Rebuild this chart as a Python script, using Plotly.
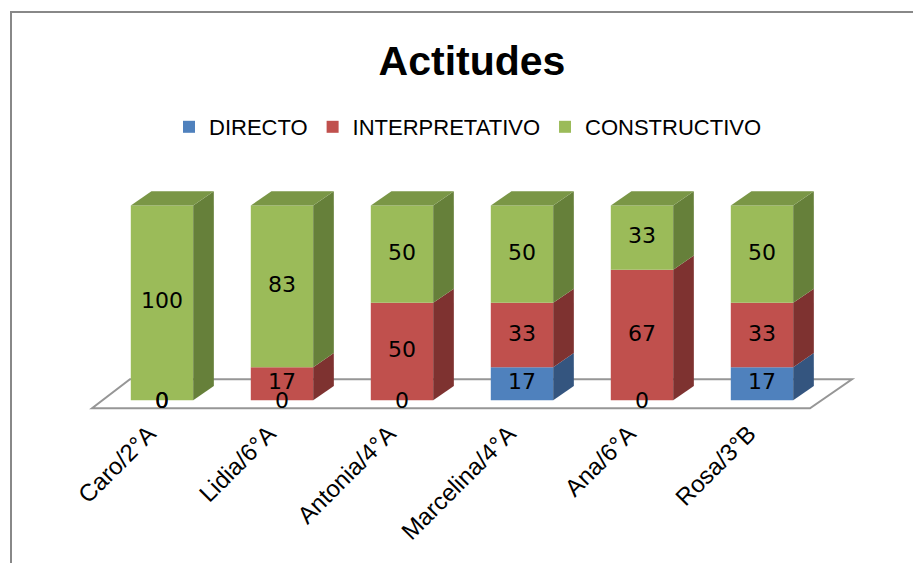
import plotly.graph_objects as go

# ---------------- data ----------------
categories = ['Caro/2°A', 'Lidia/6°A', 'Antonia/4°A', 'Marcelina/4°A', 'Ana/6°A', 'Rosa/3°B']
directo = [0, 0, 0, 17, 0, 17]
interpretativo = [0, 17, 50, 33, 67, 33]
constructivo = [100, 83, 50, 50, 33, 50]

series = [
    ('DIRECTO', directo),
    ('INTERPRETATIVO', interpretativo),
    ('CONSTRUCTIVO', constructivo),
]

# front / side / top colours per series
front_col = ['#4F81BD', '#C0504D', '#9BBB59']
side_col = ['rgb(52,85,127)', 'rgb(126,50,48)', 'rgb(102,128,58)']
top_col = ['rgb(65,106,158)', 'rgb(160,64,61)', 'rgb(122,150,70)']

W, H = 921, 563
OFF = 8  # the page body margin shifts the figure by 8px
ml, mr, mt, mb = 72 - OFF, 57 + OFF, 186 - OFF, 153 + OFF
xr = [-0.75, 5.85]
yr = [-5, 110]
lab_shift = 0.11  # category labels sit a little left of the columns

bar_w = 0.52
dx, dy = 0.172, 7.3   # depth offset (data units)

font_c = 'Liberation Sans, Arial, sans-serif'
font_lab = 'DejaVu Sans, Verdana, sans-serif'

xs = list(range(len(categories)))

fig = go.Figure()

shapes = []

# floor of the 3D chart
fl = dict(fy=-4.1, by=10.8, fx0=-0.583, fx1=5.4, bx0=-0.267, bx1=5.75)
shapes.append(dict(
    type='path', xref='x', yref='y', layer='below',
    path=f"M{fl['fx0']},{fl['fy']} L{fl['fx1']},{fl['fy']} L{fl['bx1']},{fl['by']} L{fl['bx0']},{fl['by']} Z",
    fillcolor='white', line=dict(color='rgb(150,150,150)', width=2)))

lab_x, lab_y, lab_t = [], [], []
base = [0] * len(xs)
for k, (name, vals) in enumerate(series):
    fig.add_trace(go.Bar(
        x=xs, y=vals, base=base[:], width=bar_w, name=name,
        marker=dict(color=front_col[k], line=dict(width=0)),
        hoverinfo='skip'))
    for i, v in enumerate(vals):
        y0 = base[i]
        y1 = y0 + v
        xrgt = xs[i] + bar_w / 2
        if v > 0:
            shapes.append(dict(
                type='path', xref='x', yref='y', layer='above',
                path=f"M{xrgt},{y0} L{xrgt + dx},{y0 + dy} L{xrgt + dx},{y1 + dy} L{xrgt},{y1} Z",
                fillcolor=side_col[k], line=dict(width=0)))
        lab_x.append(xs[i])
        lab_y.append(y0 + v / 2 if v > 0 else y0 - 1)
        lab_t.append(str(v))
    base = [b + v for b, v in zip(base, vals)]

# top faces of each column
for i in xs:
    top_k = max(k for k, (_, vals) in enumerate(series) if vals[i] > 0)
    t = base[i]
    xl = xs[i] - bar_w / 2
    xrgt = xs[i] + bar_w / 2
    shapes.append(dict(
        type='path', xref='x', yref='y', layer='above',
        path=f"M{xl},{t} L{xl + dx},{t + dy} L{xrgt + dx},{t + dy} L{xrgt},{t} Z",
        fillcolor=top_col[top_k], line=dict(width=0)))

fig.add_trace(go.Scatter(
    x=lab_x, y=lab_y, text=lab_t, mode='text', showlegend=False,
    textfont=dict(family=font_lab, size=22, color='black'), hoverinfo='skip'))

# invisible trace so the label axis gets drawn
fig.add_trace(go.Scatter(
    x=xs, y=[None] * len(xs), xaxis='x2', yaxis='y', mode='markers',
    showlegend=False, hoverinfo='skip'))

# outer frame (pixel -> paper coords)
pw = W - ml - mr
ph = H - mt - mb
def px(x):
    return (x - ml) / pw
def py(y):
    return (H - mb - y) / ph

shapes.append(dict(
    type='path', xref='paper', yref='paper', layer='above',
    path=f"M{px(3)},{py(570)} L{px(3)},{py(4)} L{px(930)},{py(4)}",
    line=dict(color='rgb(136,136,136)', width=2)))

fig.update_layout(
    width=W, height=H,
    barmode='overlay',
    plot_bgcolor='white', paper_bgcolor='white',
    margin=dict(l=ml, r=mr, t=mt, b=mb, autoexpand=False),
    title=dict(text='<b>Actitudes</b>', x=(472 - OFF) / W, xanchor='center',
               y=1 - (61 - OFF) / H, yanchor='middle',
               font=dict(family=font_c, size=41, color='black')),
    legend=dict(orientation='h', x=px(468 - OFF), xanchor='center',
                y=py(127 - OFF), yanchor='middle',
                font=dict(family=font_c, size=22, color='black'),
                itemwidth=30, traceorder='normal'),
    xaxis=dict(range=xr, showticklabels=False, showgrid=False, zeroline=False,
               showline=False, ticks='', automargin=False),
    xaxis2=dict(range=[xr[0] + lab_shift, xr[1] + lab_shift], overlaying='x',
                anchor='y', side='bottom',
                tickmode='array', tickvals=xs, ticktext=categories,
                tickangle=-45, showgrid=False, zeroline=False, showline=False,
                tickfont=dict(family=font_c, size=24, color='black'),
                ticklabelstandoff=4, automargin=False),
    yaxis=dict(range=yr, visible=False, showgrid=False, zeroline=False,
               automargin=False),
    shapes=shapes,
    showlegend=True,
)

fig.write_html('out.html')
